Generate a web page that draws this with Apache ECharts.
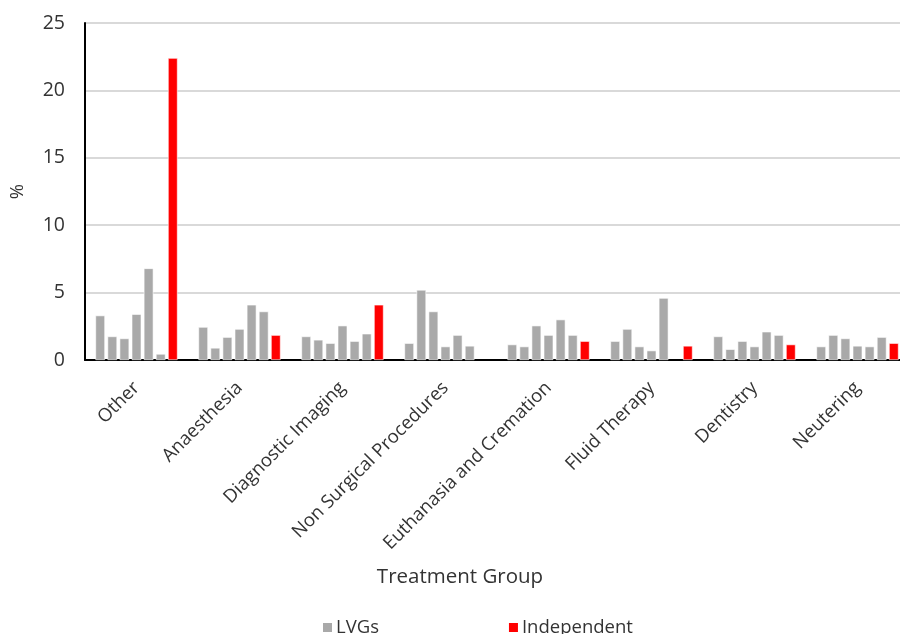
<!DOCTYPE html>
<html>
<head>
<meta charset="utf-8">
<title>Treatment Group</title>
<script src="https://cdn.jsdelivr.net/npm/echarts@6/dist/echarts.min.js"></script>
<style>
  html, body { margin: 0; padding: 0; background: #fff; overflow: hidden; width: 900px; height: 634px; }
  #chart { width: 909px; height: 634px; }
</style>
</head>
<body>
<div id="chart"></div>
<script>
// Treatment groups along the x axis
const categories = ['Other', 'Anaesthesia', 'Diagnostic Imaging', 'Non Surgical Procedures',
  'Euthanasia and Cremation', 'Fluid Therapy', 'Dentistry', 'Neutering'];

// Share (%) for each of the six LVGs, one array per LVG, in category order
const lvg1 = [3.3, 2.45, 1.75, 1.25, 1.15, 1.4, 1.75, 1.0];
const lvg2 = [1.75, 0.9, 1.5, 5.2, 1.0, 2.3, 0.8, 1.85];
const lvg3 = [1.6, 1.7, 1.25, 3.6, 2.55, 1.0, 1.4, 1.6];
const lvg4 = [3.4, 2.3, 2.55, 1.0, 1.85, 0.7, 1.0, 1.05];
const lvg5 = [6.8, 4.1, 1.4, 1.85, 3.0, 4.6, 2.1, 1.0];
const lvg6 = [0.45, 3.6, 1.95, 1.05, 1.85, null, 1.85, 1.7];
const lvgSeries = [lvg1, lvg2, lvg3, lvg4, lvg5, lvg6];

// Share (%) for independent practices
const independent = [22.4, 1.85, 4.1, null, 1.4, 1.05, 1.15, 1.25];

// Value axis ticks
const yTicks = [0, 5, 10, 15, 20, 25];

const FONT = 'Open Sans';
const TEXT = '#333333';
const GREY = '#A9A9A9';
const RED = '#FF0000';

const barStyle = { borderColor: '#ffffff', borderWidth: 0.6 };

const series = lvgSeries.map(values => ({
  name: 'LVGs',
  type: 'bar',
  data: values,
  barWidth: 9.6,
  barGap: '26%',
  itemStyle: Object.assign({ color: GREY }, barStyle)
}));
series.push({
  name: 'Independent',
  type: 'bar',
  data: independent,
  barWidth: 9.6,
  barGap: '26%',
  itemStyle: Object.assign({ color: RED }, barStyle)
});

const chart = echarts.init(document.getElementById('chart'), null, { renderer: 'canvas' });
chart.setOption({
  animation: false,
  backgroundColor: '#ffffff',
  textStyle: { fontFamily: FONT },
  grid: { left: 82, right: 0, top: 23, bottom: 274, containLabel: false },
  legend: {
    data: ['LVGs', 'Independent'],
    left: 316,
    top: 613,
    itemWidth: 11,
    itemHeight: 11,
    itemGap: 128,
    icon: 'rect',
    textStyle: { fontFamily: FONT, fontSize: 18.5, color: TEXT, padding: [0, 0, 0, -2] },
    selectedMode: false
  },
  xAxis: {
    type: 'category',
    data: categories,
    axisLine: { show: true, lineStyle: { color: '#000', width: 2 } },
    axisTick: { show: false },
    axisLabel: { rotate: 45, interval: 0, margin: 25, fontFamily: FONT, fontSize: 18.5, color: TEXT }
  },
  yAxis: {
    type: 'value',
    min: yTicks[0],
    max: yTicks[yTicks.length - 1],
    interval: yTicks[1] - yTicks[0],
    name: '%',
    nameLocation: 'middle',
    nameGap: 58,
    nameRotate: 90,
    nameTextStyle: { fontFamily: FONT, fontSize: 18.5, color: TEXT },
    axisLine: { show: true, lineStyle: { color: '#000', width: 2 } },
    axisTick: { show: false },
    axisLabel: { margin: 20, fontFamily: FONT, fontSize: 19.5, color: TEXT },
    splitLine: { show: true, lineStyle: { color: '#D9D9D9', width: 2 } }
  },
  graphic: [{
    type: 'text',
    style: {
      text: 'Treatment Group',
      x: 460,
      y: 577,
      align: 'center',
      verticalAlign: 'middle',
      fontFamily: FONT,
      fontSize: 20.5,
      fill: TEXT
    }
  }],
  series: series
});
</script>
</body>
</html>
